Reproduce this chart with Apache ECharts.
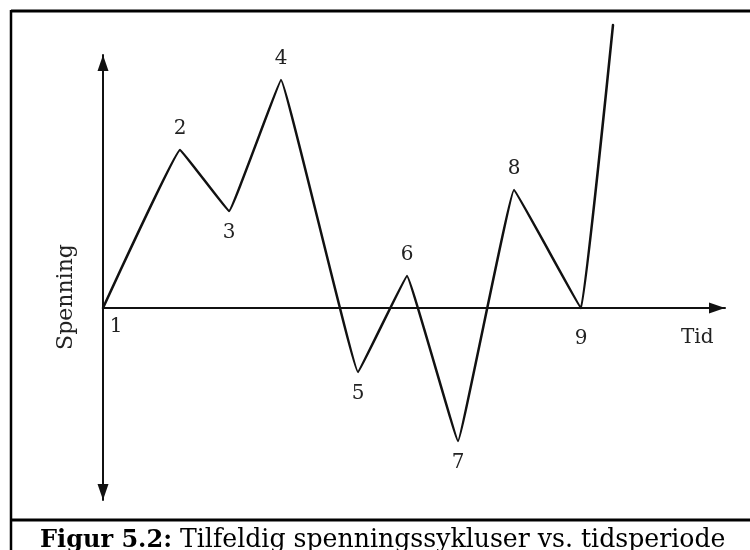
<!DOCTYPE html>
<html>
<head>
<meta charset="utf-8">
<script src="https://cdn.jsdelivr.net/npm/echarts@6/dist/echarts.min.js"></script>
<style>
  html, body { margin: 0; padding: 0; background: #fff; }
  #chart { width: 750px; height: 550px; }
</style>
</head>
<body>
<div id="chart"></div>
<script>
// tidspunkt og spenning for vendepunktene (vilkårlige enheter)
const tider = [0, 7.7, 12.6, 17.8, 25.5, 30.4, 35.5, 41.1, 47.8, 51.0];
const spenning = [0, 15.8, 9.7, 22.8, -6.4, 3.2, -13.3, 11.8, 0, 28.3];
const punktNavn = ['1', '2', '3', '4', '5', '6', '7', '8', '9', ''];

const xMin = 0, xMax = 62.2;
const yMin = -19.2, yMax = 25.3;

const serif = '"DejaVu Serif", "Liberation Serif", serif';

// topp -> etikett over, bunn -> etikett under
const data = tider.map((t, i) => {
  const v = spenning[i];
  const prev = i > 0 ? spenning[i - 1] : -Infinity;
  const next = i < spenning.length - 1 ? spenning[i + 1] : -Infinity;
  const topp = v >= prev && v >= next;
  let label;
  if (i === 0) {
    label = { position: 'bottom', distance: 8, offset: [13, 0] };
  } else if (v === 0) {
    label = { position: 'bottom', distance: 20 };
  } else {
    label = { position: topp ? 'top' : 'bottom', distance: 11 };
  }
  return { value: [t, v], name: punktNavn[i], label };
});

const chart = echarts.init(document.getElementById('chart'));

chart.setOption({
  backgroundColor: '#fff',
  animation: false,
  grid: { left: 103, right: 25, top: 55, bottom: 50 },
  xAxis: {
    type: 'value',
    min: xMin,
    max: xMax,
    axisLine: {
      show: true,
      onZero: true,
      symbol: ['none', 'triangle'],
      symbolSize: [11, 16],
      symbolOffset: [0, -8],
      lineStyle: { color: '#111', width: 2 }
    },
    axisTick: { show: false },
    axisLabel: { show: false },
    splitLine: { show: false }
  },
  yAxis: {
    type: 'value',
    min: yMin,
    max: yMax,
    axisLine: {
      show: true,
      onZero: true,
      symbol: ['triangle', 'triangle'],
      symbolSize: [11, 16],
      symbolOffset: [8, -8],
      lineStyle: { color: '#111', width: 2 }
    },
    axisTick: { show: false },
    axisLabel: { show: false },
    splitLine: { show: false }
  },
  series: [{
    type: 'line',
    data: data,
    clip: false,
    smooth: 0.05,
    symbol: 'circle',
    symbolSize: 1,
    itemStyle: { color: 'rgba(0,0,0,0)' },
    lineStyle: { color: '#111', width: 2.5, join: 'round', cap: 'round' },
    label: {
      show: true,
      formatter: p => p.name,
      fontFamily: serif,
      fontSize: 20,
      color: '#222'
    }
  }],
  graphic: [
    // ramme
    { type: 'line', shape: { x1: 11, y1: 11, x2: 750, y2: 11 }, style: { stroke: '#000', lineWidth: 3 } },
    { type: 'line', shape: { x1: 11, y1: 10, x2: 11, y2: 550 }, style: { stroke: '#000', lineWidth: 2.5 } },
    { type: 'line', shape: { x1: 10, y1: 520, x2: 750, y2: 520 }, style: { stroke: '#000', lineWidth: 3 } },
    {
      type: 'text', left: 681, top: 328,
      style: { text: 'Tid', font: '20px ' + serif, fill: '#222' }
    },
    {
      type: 'text', x: 66, y: 297, rotation: Math.PI / 2,
      style: { text: 'Spenning', font: '22px ' + serif, fill: '#222', align: 'center', verticalAlign: 'middle' }
    },
    {
      type: 'text', left: 40, top: 528,
      style: {
        text: '{b|Figur 5.2:}{n| Tilfeldig spenningssykluser vs. tidsperiode}',
        font: '24px ' + serif,
        fill: '#000',
        rich: {
          b: { fontWeight: 'bold', fontSize: 24, fontFamily: serif, fill: '#000' },
          n: { fontSize: 25.2, fontFamily: serif, fill: '#000' }
        }
      }
    }
  ]
});
</script>
</body>
</html>
